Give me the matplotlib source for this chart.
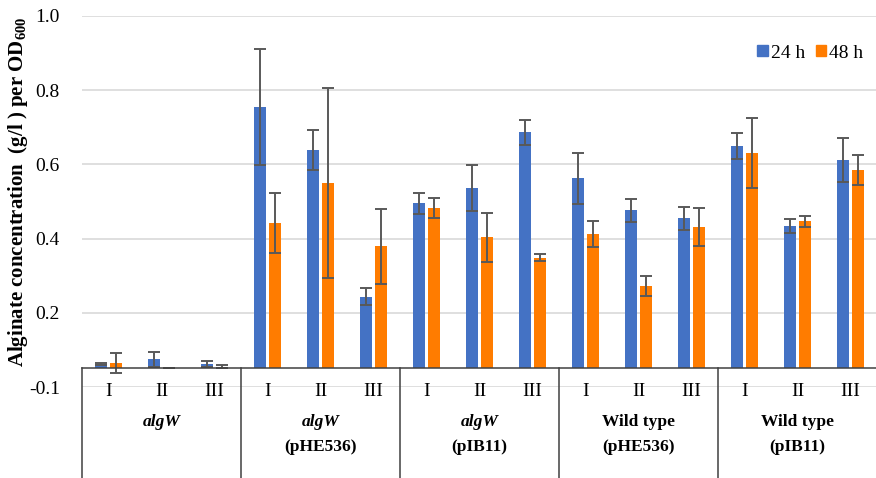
import numpy as np
import matplotlib
matplotlib.use("Agg")
import matplotlib.pyplot as plt
from matplotlib.patches import Patch

# Data
groups = ["algW", "algW\n(pHE536)", "algW\n(pIB11)", "Wild type\n(pHE536)", "Wild type\n(pIB11)"]
replicates = ["I", "II", "III"]

val_24h = [0.061, 0.075, 0.062,
           0.755, 0.639, 0.243,
           0.495, 0.536, 0.686,
           0.562, 0.476, 0.455,
           0.650, 0.434, 0.612]
err_24h = [0.003, 0.020, 0.009,
           0.157, 0.055, 0.023,
           0.028, 0.062, 0.034,
           0.070, 0.032, 0.031,
           0.035, 0.020, 0.060]
val_48h = [0.065, 0.051, 0.055,
           0.441, 0.550, 0.379,
           0.482, 0.403, 0.349,
           0.412, 0.272, 0.431,
           0.631, 0.447, 0.584]
err_48h = [0.026, 0.001, 0.003,
           0.081, 0.255, 0.102,
           0.027, 0.066, 0.009,
           0.035, 0.027, 0.052,
           0.094, 0.015, 0.040]

yticks = [0.0, 0.2, 0.4, 0.6, 0.8, 1.0]
ytick_labels = ["-0.1", "0.2", "0.4", "0.6", "0.8", "1.0"]
base = 0.05  # where the category axis crosses

blue = "#4472C4"
orange = "#FF7C00"
err_col = "#595959"

plt.rcParams["font.family"] = ["Liberation Serif", "DejaVu Serif"]
plt.rcParams["mathtext.fontset"] = "custom"
plt.rcParams["mathtext.bf"] = "Liberation Serif:bold"
plt.rcParams["mathtext.rm"] = "Liberation Serif"

W, H = 876, 478
fig = plt.figure(figsize=(W / 100, H / 100), dpi=100)
ax = fig.add_axes([82 / W, 1 - 387 / H, 794 / W, 371 / H])

x = np.arange(len(val_24h))
bw = 0.226
off = 0.142
v24 = np.array(val_24h)
v48 = np.array(val_48h)
ax.bar(x - off, v24 - base, bw, bottom=base, color=blue, zorder=2)
ax.bar(x + off, v48 - base, bw, bottom=base, color=orange, zorder=2)
ax.errorbar(x - off, v24, yerr=err_24h, fmt="none", ecolor=err_col,
            elinewidth=1.4, capsize=4.5, capthick=1.4, zorder=3)
ax.errorbar(x + off, v48, yerr=err_48h, fmt="none", ecolor=err_col,
            elinewidth=1.4, capsize=4.5, capthick=1.4, zorder=3)

ax.set_xlim(-0.5, 14.48)
ax.set_ylim(0, 1.0)
ax.set_yticks(yticks)
ax.set_yticklabels(ytick_labels, fontsize=14)
ax.tick_params(axis="y", length=0, pad=16)
ax.set_xticks([])
for s in ax.spines.values():
    s.set_visible(False)
ax.grid(axis="y", color="#D9D9D9", linewidth=1.2, zorder=0)
ax.set_axisbelow(True)

# category axis box
ax.plot([-0.5, 14.5], [base, base], color="#404040", lw=1.1, clip_on=False, zorder=4)
for b in np.arange(-0.5, 14.6, 3):
    ax.plot([b, b], [base, -0.3], color="#404040", lw=1.1, clip_on=False, zorder=4)

for i in x:
    ax.text(i, -0.012, replicates[i % 3], ha="center", va="center", fontsize=14)

for g, name in enumerate(groups):
    cx = g * 3 + 1
    lines = name.split("\n")
    if lines[0] == "algW":
        ax.text(cx, -0.095, "algW", ha="center", va="center", fontsize=12.5,
                fontweight="bold", fontstyle="italic")
    else:
        ax.text(cx, -0.095, lines[0], ha="center", va="center", fontsize=12.5,
                fontweight="bold")
    if len(lines) > 1:
        ax.text(cx, -0.161, lines[1], ha="center", va="center", fontsize=12.5,
                fontweight="bold")

handles = [Patch(color=blue, label="24 h"), Patch(color=orange, label="48 h")]
fig.legend(handles=handles, loc="center right", bbox_to_anchor=(873 / W, 1 - 53 / H),
           ncol=2, frameon=False, fontsize=14, handlelength=0.55, handleheight=0.55,
           handletextpad=0.15, columnspacing=0.55, borderpad=0)

fig.text(18 / W, 1 - 192 / H, r"Alginate concentration  (g/l ) per OD$_{\mathbf{600}}$",
         rotation=90, ha="center", va="center", fontsize=15, fontweight="bold")

fig.savefig("out.png", dpi=100)
